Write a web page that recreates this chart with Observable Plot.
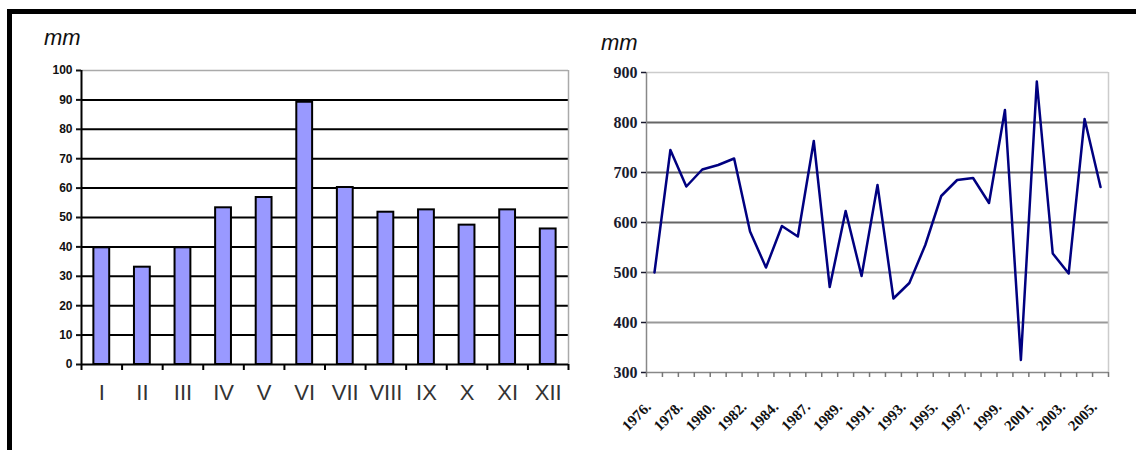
<!DOCTYPE html>
<html><head><meta charset="utf-8">
<script src="https://cdn.jsdelivr.net/npm/d3@7"></script>
<script src="https://cdn.jsdelivr.net/npm/@observablehq/plot@0.6"></script>
<style>
body{margin:0;background:#fff;}
#wrap{position:relative;width:1136px;height:450px;overflow:hidden;background:#fff;}
.bt{position:absolute;left:7px;top:9px;right:0;height:5px;background:#000;}
.bl{position:absolute;left:7px;top:9px;width:5px;bottom:0;background:#000;}
.unit{position:absolute;font-family:Arial,"Liberation Sans",sans-serif;font-style:italic;font-size:22px;line-height:22px;color:#111;}
#c1{position:absolute;left:0;top:0;}
#c2{position:absolute;left:580px;top:0;}
#c1 svg, #c1 svg text{font-family:Arial,"Liberation Sans",sans-serif !important;}
#c2 svg, #c2 svg text{font-family:"Liberation Serif","Times New Roman",serif !important;}
</style></head><body>
<div id="wrap">
<div id="c1"></div><div id="c2"></div>
<div class="bt"></div><div class="bl"></div>
<div class="unit" style="left:44px;top:27px">mm</div>
<div class="unit" style="left:601px;top:32px">mm</div>
</div>
<script>
const months = ["I","II","III","IV","V","VI","VII","VIII","IX","X","XI","XII"];
const monthly = [39.7, 33.1, 39.7, 53.3, 56.8, 89.2, 60.2, 51.8, 52.6, 47.4, 52.6, 46.1];
const yTicks1 = [0,10,20,30,40,50,60,70,80,90,100];

const years = [1976,1977,1978,1979,1980,1981,1982,1983,1984,1985,1987,1988,1989,1990,1991,1992,1993,1994,1995,1996,1997,1998,1999,2000,2001,2002,2003,2004,2005];
const annual = [500, 745, 672, 706, 715, 728, 582, 510, 593, 572, 763, 471, 623, 493, 675, 448, 479, 555, 653, 685, 689, 639, 825, 325, 882, 538, 498, 807, 671];
const yTicks2 = [300,400,500,600,700,800,900];

const bar = Plot.plot({
  width: 580, height: 420,
  marginLeft: 81, marginRight: 12, marginTop: 70, marginBottom: 56,
  x: {domain: [0, months.length], axis: null},
  y: {domain: [0, 100], axis: null},
  style: {background: "transparent", overflow: "visible"},
  marks: [
    Plot.ruleY(yTicks1.filter(v => v > 0 && v < 100), {stroke: "#000", strokeWidth: 2}),
    Plot.ruleY([100], {stroke: "#aaa", strokeWidth: 1.5}),
    Plot.ruleX([months.length], {stroke: "#aaa", strokeWidth: 1.5}),
    Plot.rectY(monthly, {x1: (d, i) => i + 0.305, x2: (d, i) => i + 0.695, y: d => d, fill: "#9999ff", stroke: "#000", strokeWidth: 2}),
    Plot.ruleX([0], {stroke: "#000", strokeWidth: 2}),
    Plot.ruleY([0], {stroke: "#000", strokeWidth: 2}),
    Plot.axisY({ticks: yTicks1, tickSize: 5, tickPadding: 4, fontSize: 12, fontWeight: "bold", color: "#111", strokeWidth: 2}),
    Plot.axisX({ticks: d3.range(months.length + 1), tickSize: 6, tickFormat: () => "", color: "#000", strokeWidth: 2}),
    Plot.axisX({ticks: months.map((m, i) => i + 0.5), tickSize: 0, tickPadding: 20, tickFormat: v => months[Math.floor(v)], fontSize: 22, color: "#333"})
  ]
});
document.getElementById("c1").appendChild(bar);

const line = Plot.plot({
  width: 556, height: 450,
  marginLeft: 66, marginRight: 28, marginTop: 72, marginBottom: 78,
  x: {domain: [0, years.length], axis: null},
  y: {domain: [300, 900], axis: null},
  style: {background: "transparent", overflow: "visible"},
  marks: [
    Plot.ruleY([600, 700, 800], {stroke: "#666", strokeWidth: 2}),
    Plot.ruleY([400, 500], {stroke: "#999", strokeWidth: 2}),
    Plot.ruleY([900], {stroke: "#ccc", strokeWidth: 1.5}),
    Plot.ruleX([years.length], {stroke: "#ccc", strokeWidth: 1.5}),
    Plot.ruleX([0], {stroke: "#888", strokeWidth: 1.5}),
    Plot.ruleY([300], {stroke: "#888", strokeWidth: 1.5}),
    Plot.lineY(annual, {x: (d, i) => i + 0.5, y: d => d, stroke: "#000080", strokeWidth: 2.5}),
    Plot.axisY({ticks: yTicks2, tickSize: 5, tickPadding: 4, fontSize: 16, fontWeight: "bold", color: "#1a1a2e", strokeWidth: 1.5}),
    Plot.axisX({ticks: d3.range(years.length + 1), tickSize: 5, tickFormat: () => "", color: "#777", strokeWidth: 1.5}),
    Plot.axisX({ticks: years.map((y, i) => i).filter(i => i % 2 === 0).map(i => i + 0.5), tickSize: 0, tickPadding: 32, dx: -6, tickRotate: -45, tickFormat: v => years[Math.floor(v)] + ".", fontSize: 15, fontWeight: "bold", color: "#111"})
  ]
});
document.getElementById("c2").appendChild(line);
</script>
</body></html>
